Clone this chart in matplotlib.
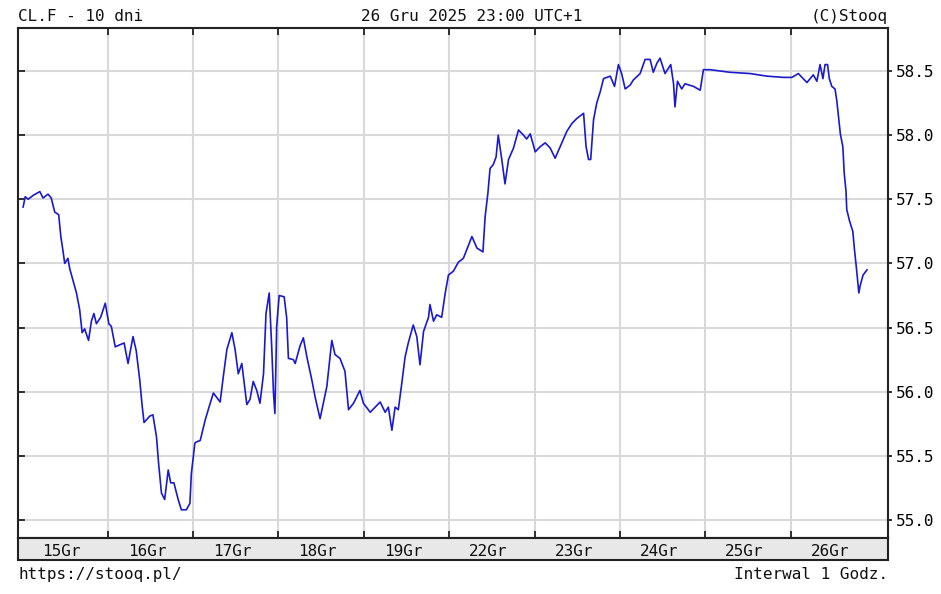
import matplotlib
matplotlib.use("Agg")
import matplotlib.pyplot as plt

plt.rcParams['font.family'] = ['DejaVu Sans Mono']

# hourly closes of CL.F, x = trading hour index from 15 Dec 00:00 (24 per session)
hours = [
    0.2, 0.8, 1.6, 3.0, 4.9, 5.8, 7.2, 8.1, 9.1, 10.2, 10.8, 11.4, 11.9, 12.8, 13.3,
    14.2, 15.2, 16.1, 16.8, 17.5, 18.6, 19.4, 20.1, 20.8, 22.0, 23.3,
    24.3, 25.0, 26.1, 28.6, 29.7, 31.1, 32.0, 33.0, 33.6, 34.2, 35.8, 36.7, 37.7,
    38.3, 39.1, 40.0, 41.0, 41.7, 42.6, 43.8, 44.7, 46.1, 47.1, 47.5,
    48.5, 49.0, 50.0, 51.4, 52.8, 53.7, 55.6, 56.5, 57.5, 58.9, 59.8, 60.7, 61.7,
    63.1, 64.0, 64.9, 65.9, 66.8, 67.8, 68.5, 69.4, 70.1, 70.6, 71.0, 71.5,
    72.2, 73.6, 74.3, 74.8, 76.2, 76.7, 78.1, 79.0, 80.0, 81.4, 82.3, 83.7, 84.6,
    85.6, 86.5, 87.0, 87.9, 89.3, 90.7, 91.7, 93.1, 94.9,
    95.9, 97.8, 99.2, 100.6, 102.0, 102.9, 103.9, 104.8, 105.7, 106.7, 107.6,
    108.5, 109.9, 110.9, 111.8, 112.8, 114.2, 114.6, 115.6, 116.5, 117.9, 118.9,
    119.8, 121.2, 122.6, 124.0, 125.4, 126.4, 127.8, 129.5, 130.1, 130.9, 131.5,
    132.4, 133.2, 133.8, 134.8, 135.7, 136.7, 138.1, 139.5, 140.9, 141.8, 142.8,
    144.2, 145.6, 147.0, 148.4, 149.8, 151.2, 153.1, 154.5, 155.9, 157.8, 158.5,
    159.2, 159.8, 160.6, 161.5, 162.5, 163.4, 165.3, 166.5, 167.6, 168.5, 169.5,
    170.9, 171.8, 173.7, 175.1, 176.5, 177.4, 178.4, 179.3, 180.7, 182.3, 183.1,
    183.5, 184.2, 185.4, 186.3, 188.7, 190.6, 191.5, 193.4, 198.9, 204.6, 209.3,
    214.0, 216.4, 218.2, 220.6, 222.4, 223.4, 224.3, 225.1, 225.7, 226.4, 226.9,
    227.6, 228.5, 229.0, 229.5, 230.0, 230.7, 231.1, 231.6, 231.8, 232.6, 233.5,
    234.0, 234.5, 235.2, 235.6, 236.4, 237.5,
]
prices = [
    57.44, 57.52, 57.50, 57.53, 57.56, 57.51, 57.54, 57.51, 57.40, 57.38, 57.21, 57.10, 57.00, 57.04, 56.96,
    56.87, 56.77, 56.64, 56.46, 56.49, 56.40, 56.55, 56.61, 56.53, 56.58, 56.69,
    56.53, 56.51, 56.35, 56.38, 56.22, 56.43, 56.32, 56.09, 55.91, 55.76, 55.81, 55.82, 55.65,
    55.44, 55.21, 55.16, 55.39, 55.29, 55.29, 55.16, 55.08, 55.08, 55.13, 55.36,
    55.60, 55.61, 55.62, 55.78, 55.91, 55.99, 55.92, 56.12, 56.33, 56.46, 56.33, 56.14, 56.22,
    55.90, 55.94, 56.08, 56.01, 55.91, 56.14, 56.61, 56.77, 56.35, 55.99, 55.83, 56.51,
    56.75, 56.74, 56.58, 56.26, 56.25, 56.22, 56.36, 56.42, 56.27, 56.09, 55.96, 55.79, 55.91,
    56.04, 56.27, 56.40, 56.29, 56.26, 56.16, 55.86, 55.91, 56.01,
    55.91, 55.84, 55.88, 55.92, 55.84, 55.88, 55.70, 55.88, 55.86, 56.07, 56.27,
    56.38, 56.52, 56.43, 56.21, 56.47, 56.58, 56.68, 56.55, 56.60, 56.58, 56.77,
    56.91, 56.94, 57.01, 57.04, 57.14, 57.21, 57.12, 57.09, 57.36, 57.55, 57.74,
    57.77, 57.83, 58.00, 57.81, 57.62, 57.81, 57.90, 58.04, 58.00, 57.97, 58.01,
    57.87, 57.91, 57.94, 57.90, 57.82, 57.91, 58.03, 58.09, 58.13, 58.17, 57.91,
    57.81, 57.81, 58.12, 58.25, 58.34, 58.44, 58.46, 58.38, 58.55, 58.48, 58.36,
    58.39, 58.43, 58.48, 58.59, 58.59, 58.49, 58.56, 58.60, 58.48, 58.55, 58.40,
    58.22, 58.42, 58.36, 58.40, 58.38, 58.35, 58.51, 58.51, 58.49, 58.48, 58.46,
    58.45, 58.45, 58.48, 58.41, 58.47, 58.42, 58.55, 58.44, 58.55, 58.55, 58.44,
    58.38, 58.36, 58.27, 58.14, 58.01, 57.91, 57.70, 57.56, 57.42, 57.33, 57.25,
    57.10, 56.97, 56.77, 56.83, 56.91, 56.95,
]
day_labels = ['15Gr', '16Gr', '17Gr', '18Gr', '19Gr', '22Gr', '23Gr', '24Gr', '25Gr', '26Gr']
y_ticks = [55.0, 55.5, 56.0, 56.5, 57.0, 57.5, 58.0, 58.5]

W, H = 941, 594
fig = plt.figure(figsize=(W / 100, H / 100), dpi=100)
ax = fig.add_axes([18 / W, 1 - 538 / H, 870 / W, 510 / H])
band = fig.add_axes([18 / W, 1 - 560 / H, 870 / W, 22 / H], sharex=ax)

edge = '#222222'
fsize = 11.5

ax.plot(hours, prices, color='#1a1acc', lw=1.2, zorder=3)
ax.set_xlim(-1.24, 243.4)
ax.set_ylim(54.86, 58.835)
boundaries = [24 * k for k in range(1, len(day_labels))]
ax.set_xticks(boundaries)
ax.set_yticks(y_ticks)
ax.grid(True, color='#d9d9d9', lw=1.5, zorder=0)
ax.tick_params(axis='x', direction='in', top=True, bottom=True, length=5, width=1.3,
               color=edge, labelbottom=False)
ax.tick_params(axis='y', direction='in', left=True, right=False, length=5, width=1.3,
               color=edge, labelleft=False)
for s in ax.spines.values():
    s.set_color(edge)
    s.set_linewidth(1.5)

sec = ax.secondary_yaxis('right')
sec.set_yticks(y_ticks)
sec.set_yticklabels([f'{v:.1f}' for v in y_ticks])
sec.tick_params(direction='out', length=3, width=1.3, color=edge, pad=3, labelsize=fsize)
sec.spines['right'].set_visible(False)

band.set_facecolor('#e8e8e8')
band.set_ylim(0, 1)
band.tick_params(left=False, bottom=False, labelleft=False, labelbottom=False)
for s in band.spines.values():
    s.set_color(edge)
    s.set_linewidth(1.5)
for k, lab in enumerate(day_labels):
    band.text(24 * k + 11, 0.2, lab, ha='center', va='baseline', fontsize=fsize, color='#111111')

fig.text(18 / W, 1 - 21 / H, 'CL.F - 10 dni', ha='left', va='baseline', fontsize=fsize, color='#111111')
fig.text(472 / W, 1 - 21 / H, '26 Gru 2025 23:00 UTC+1', ha='center', va='baseline', fontsize=fsize, color='#111111')
fig.text(888 / W, 1 - 21 / H, '(C)Stooq', ha='right', va='baseline', fontsize=fsize, color='#111111')
fig.text(18 / W, 1 - 579 / H, 'https://stooq.pl/', ha='left', va='baseline', fontsize=fsize, color='#111111')
fig.text(888 / W, 1 - 579 / H, 'Interwal 1 Godz.', ha='right', va='baseline', fontsize=fsize, color='#111111')

fig.savefig('out.png', dpi=100, facecolor='white')
